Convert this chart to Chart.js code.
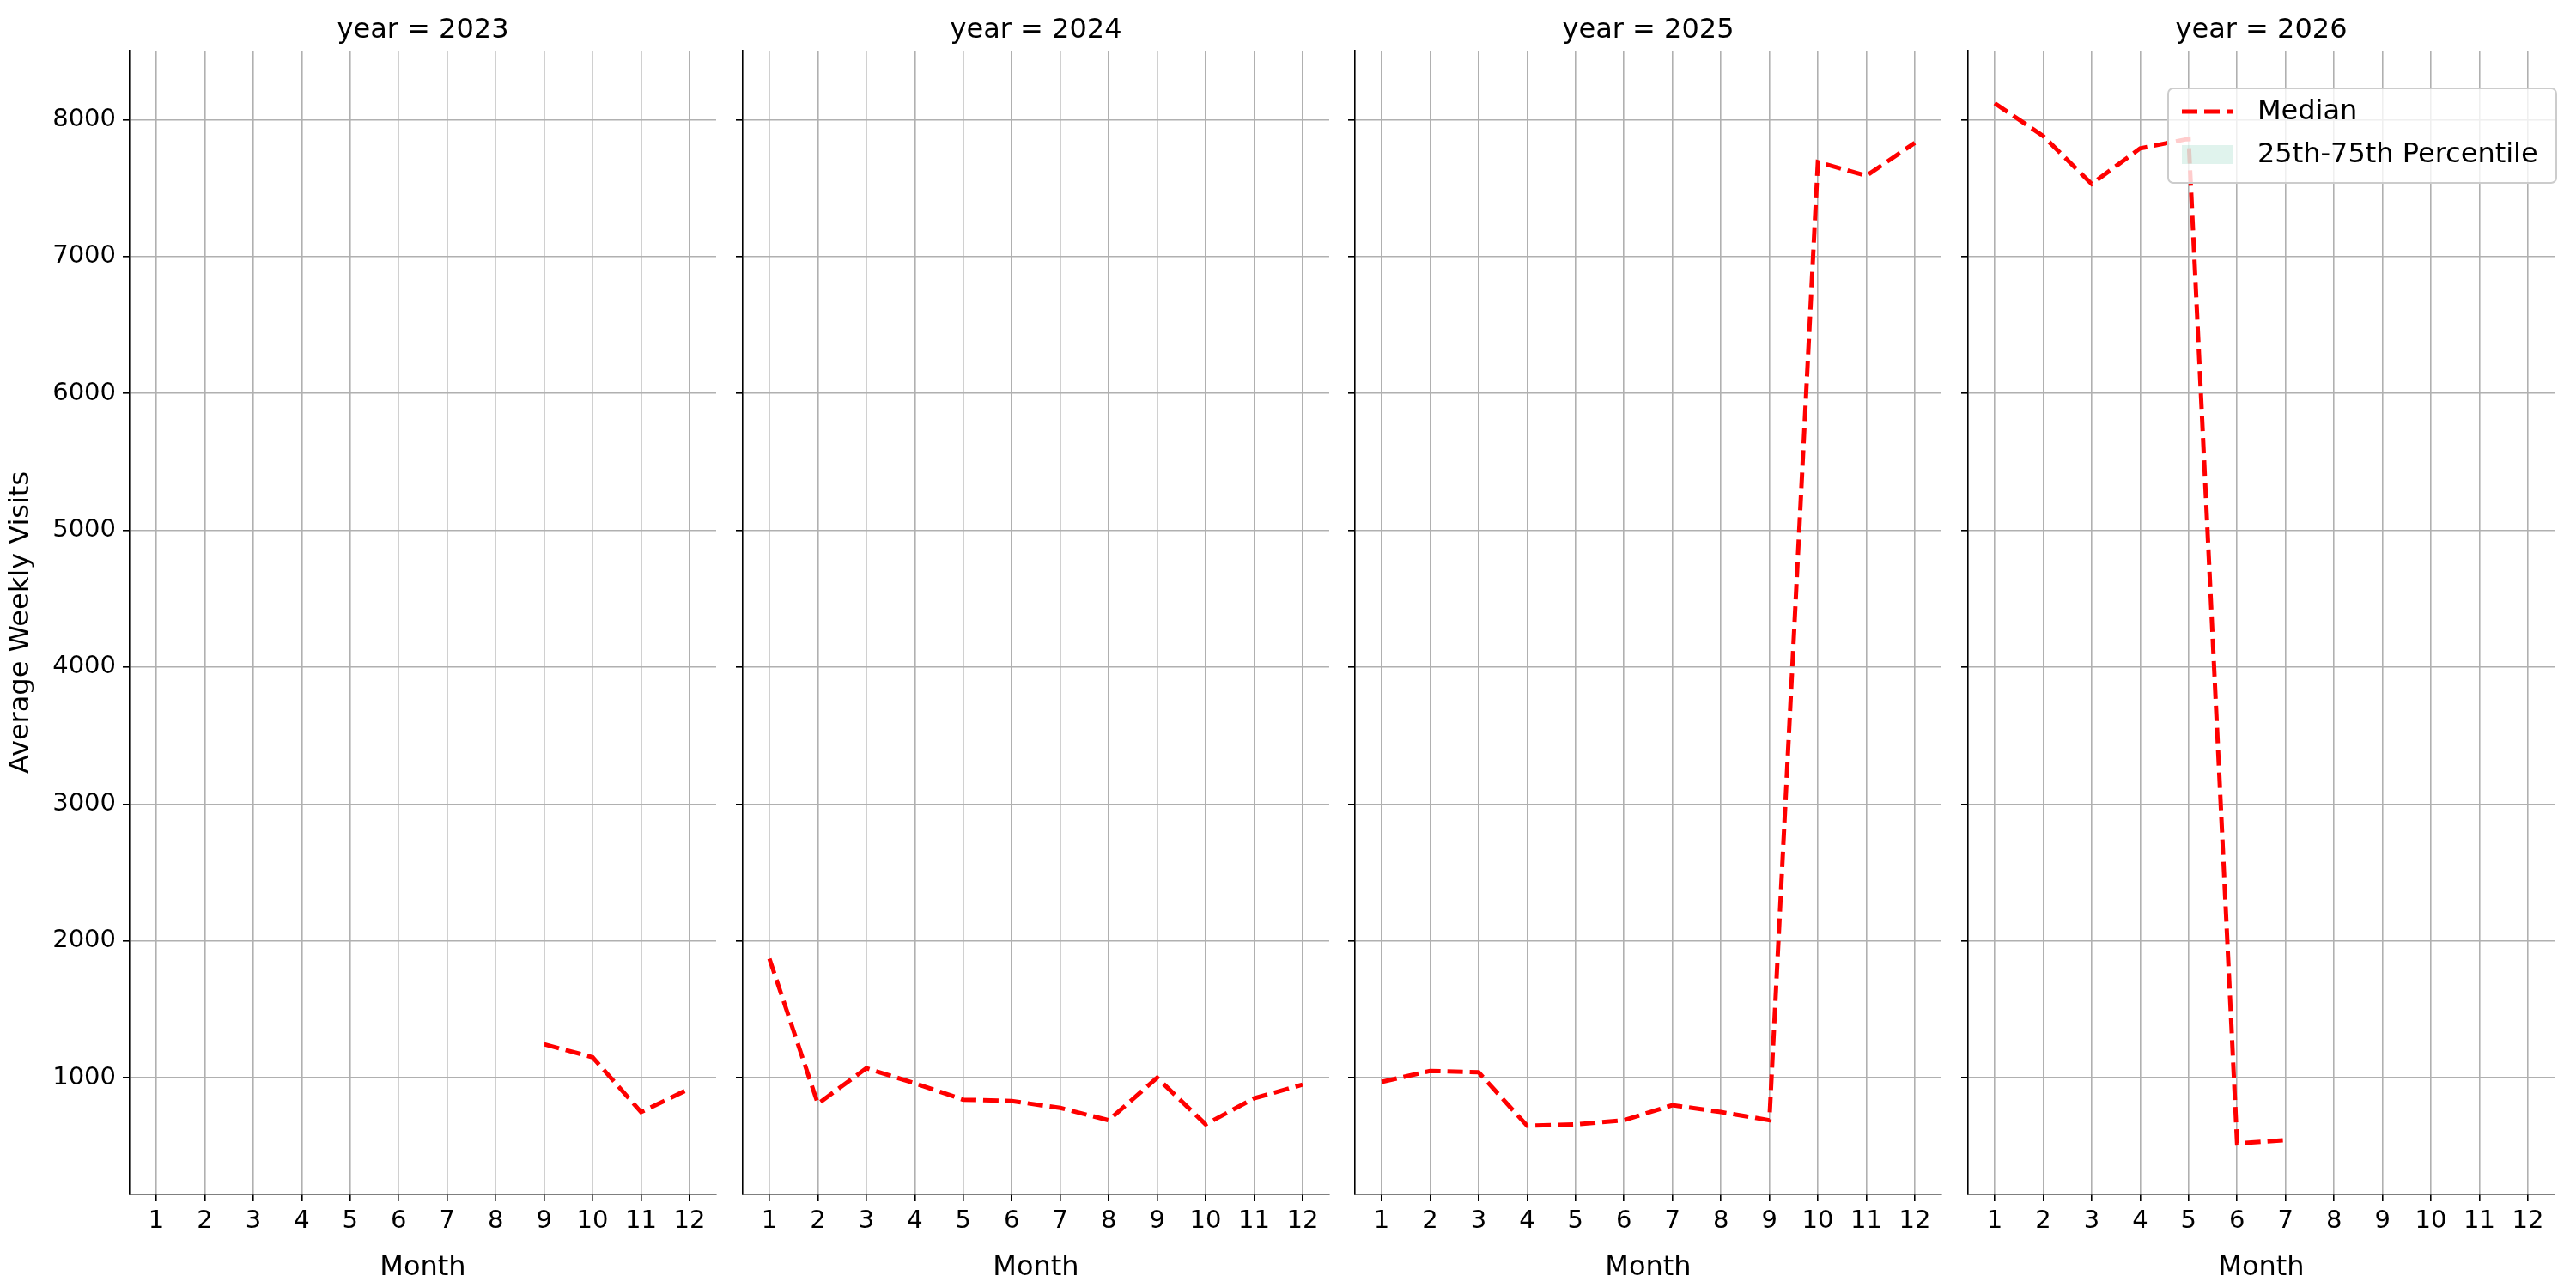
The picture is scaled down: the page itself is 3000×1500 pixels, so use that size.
<!DOCTYPE html>
<html><head><meta charset="utf-8">
<script src="https://cdn.jsdelivr.net/npm/chart.js@4"></script>
<style>body{margin:0;background:#fff;width:3000px;height:1500px;position:relative;overflow:hidden}canvas{position:absolute;top:0}</style>
</head><body>
<script>
const years = [2023, 2024, 2025, 2026];
const months = [1,2,3,4,5,6,7,8,9,10,11,12];
const yTicks = [1000,2000,3000,4000,5000,6000,7000,8000];
const median2023 = [null,null,null,null,null,null,null,null,1245,1150,750,920];
const median2024 = [1870,810,1070,960,840,830,780,690,1000,660,850,950];
const median2025 = [970,1050,1040,650,660,690,800,750,690,7690,7590,7830];
const median2026 = [8120,7880,7530,7790,7860,520,545,null,null,null,null,null];
const medians = [median2023, median2024, median2025, median2026];

const plotLefts = [151, 865, 1578, 2292];
const plotW = 683, plotTop = 59, plotBottom = 1391, L = 150, R = 12;
const FONT = "'DejaVu Sans'";

years.forEach((yr, i) => {
  const c = document.createElement('canvas');
  const w = L + plotW + R;
  c.style.left = (plotLefts[i] - L) + 'px';
  c.style.width = w + 'px'; c.style.height = '1500px';
  c.width = w; c.height = 1500;
  document.body.appendChild(c);
  const first = i === 0, last = i === 3;
  const overlay = {
    id: 'ov',
    afterDraw(ch) {
      const g = ch.ctx, a = ch.chartArea;
      g.save();
      g.fillStyle = '#000'; g.textAlign = 'center'; g.textBaseline = 'middle';
      g.font = `32px ${FONT}`;
      g.fillText('year = ' + yr, (a.left + a.right) / 2, 36);
      if (last) {
        const bx = 2525 - (plotLefts[i] - L), by = 103, bw = 452, bh = 110;
        g.fillStyle = 'rgba(255,255,255,0.8)'; g.strokeStyle = '#ccc'; g.lineWidth = 2;
        g.beginPath(); g.roundRect(bx, by, bw, bh, 6); g.fill(); g.stroke();
        g.strokeStyle = 'red'; g.lineWidth = 5; g.setLineDash([18, 8]);
        g.beginPath(); g.moveTo(bx + 16, 130); g.lineTo(bx + 76, 130); g.stroke();
        g.setLineDash([]);
        g.fillStyle = 'rgba(102,194,165,0.2)'; g.fillRect(bx + 16, 169, 60, 22);
        g.fillStyle = '#000'; g.textAlign = 'left'; g.font = `32px ${FONT}`;
        g.fillText('Median', bx + 104, 131);
        g.fillText('25th-75th Percentile', bx + 104, 181);
      }
      g.restore();
    }
  };
  new Chart(c, {
    type: 'line',
    data: { datasets: [{
      label: 'Median',
      data: months.map((m, k) => ({x: m, y: medians[i][k]})),
      borderColor: 'red', borderWidth: 5, borderDash: [18, 8],
      pointRadius: 0, spanGaps: false, tension: 0, fill: false
    }]},
    plugins: [overlay],
    options: {
      responsive: false, animation: false, devicePixelRatio: 1,
      layout: { padding: { top: plotTop, right: R, left: 0, bottom: 0 } },
      plugins: { legend: { display: false }, tooltip: { enabled: false } },
      scales: {
        x: {
          type: 'linear', min: 0.45, max: 12.55,
          afterBuildTicks: s => { s.ticks = months.map(v => ({value: v})); },
          afterFit: s => { s.height = 1500 - plotBottom; },
          ticks: { font: { size: 29, family: FONT }, color: '#000', padding: 6, maxRotation: 0, autoSkip: false },
          grid: { color: '#b0b0b0', lineWidth: 1.6, tickLength: 8, tickColor: '#000' },
          border: { display: true, color: '#000', width: 1.6 },
          title: { display: true, text: 'Month', font: { size: 32, family: FONT }, color: '#000', padding: { top: 2 } }
        },
        y: {
          min: 148, max: 8504,
          afterBuildTicks: s => { s.ticks = yTicks.map(v => ({value: v})); },
          afterFit: s => { s.width = L; },
          ticks: { font: { size: 29, family: FONT }, color: '#000', padding: 8, callback: v => first ? String(v) : '' },
          grid: { color: '#b0b0b0', lineWidth: 1.6, tickLength: 8, tickColor: '#000' },
          border: { display: true, color: '#000', width: 1.6 },
          title: { display: first, text: 'Average Weekly Visits', font: { size: 32, family: FONT }, color: '#000', padding: { bottom: 4 } }
        }
      }
    }
  });
});
</script>
</body></html>
